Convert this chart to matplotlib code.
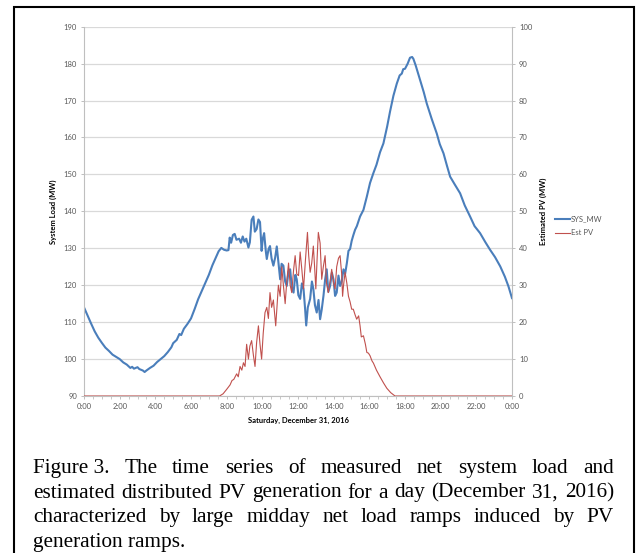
import matplotlib
matplotlib.use("Agg")
import matplotlib.pyplot as plt
from matplotlib.patches import Rectangle
from matplotlib.ticker import MultipleLocator, FuncFormatter

W, H = 637, 553

# measured net system load (left axis), hour of day -> MW
load_hours = [0.0, 0.2, 0.4, 0.6, 0.8, 1.0, 1.2, 1.4, 1.6, 1.8, 2.0, 2.2, 2.4, 2.6, 2.7, 2.8,
              3.0, 3.1, 3.3, 3.4, 3.5, 3.7, 3.9, 4.1, 4.3, 4.5, 4.7, 4.9, 5.0, 5.2, 5.35, 5.45,
              5.6, 5.8, 6.0, 6.2, 6.4, 6.6, 6.8, 7.0, 7.2, 7.4, 7.55, 7.7, 7.85, 8.0, 8.1, 8.17,
              8.25, 8.35, 8.45, 8.55, 8.7, 8.8, 8.9, 9.0, 9.1, 9.22, 9.3, 9.4, 9.5, 9.58, 9.68,
              9.78, 9.87, 9.96, 10.02, 10.1, 10.2, 10.25, 10.35, 10.43, 10.52, 10.62, 10.72,
              10.81, 10.9, 11.0, 11.08, 11.18, 11.28, 11.37, 11.47, 11.56, 11.65, 11.75, 11.85,
              11.93, 12.02, 12.12, 12.22, 12.31, 12.4, 12.46, 12.55, 12.68, 12.78, 12.86, 12.95,
              13.05, 13.15, 13.24, 13.33, 13.43, 13.52, 13.61, 13.7, 13.8, 13.9, 13.99, 14.08,
              14.17, 14.27, 14.36, 14.45, 14.55, 14.64, 14.74, 14.83, 14.92, 15.01, 15.1, 15.2,
              15.3, 15.48, 15.67, 15.86, 16.04, 16.23, 16.4, 16.6, 16.79, 17.0, 17.16, 17.35,
              17.54, 17.7, 17.82, 17.9, 18.0, 18.15, 18.28, 18.4, 18.47, 18.6, 18.85, 19.05,
              19.22, 19.5, 19.78, 19.95, 20.16, 20.35, 20.53, 20.8, 21.09, 21.35, 21.65, 21.9,
              22.21, 22.5, 22.77, 23.05, 23.34, 23.6, 23.8, 24.0]
load_mw = [114.0, 111.8, 109.6, 107.5, 105.8, 104.4, 103.1, 102.2, 101.2, 100.6, 100.0, 99.1,
           98.5, 97.6, 97.9, 97.4, 97.8, 97.3, 96.9, 96.5, 96.9, 97.6, 98.2, 99.2, 100.0, 100.8,
           101.9, 103.2, 104.3, 105.2, 106.8, 106.5, 108.2, 109.5, 111.0, 113.5, 116.2, 118.4,
           120.6, 122.8, 125.4, 127.6, 129.2, 130.1, 129.6, 129.4, 129.5, 132.9, 131.5, 133.6,
           133.9, 132.3, 132.6, 131.5, 133.2, 131.8, 132.6, 130.2, 131.6, 137.7, 138.6, 134.5,
           135.2, 137.8, 137.1, 129.3, 132.5, 134.1, 129.0, 127.1, 129.8, 130.6, 127.2, 125.3,
           127.5, 130.5, 126.4, 121.6, 125.8, 125.3, 121.0, 119.8, 123.8, 124.3, 119.5, 118.0,
           122.8, 121.6, 117.3, 116.3, 120.5, 119.0, 113.5, 109.1, 114.0, 116.3, 121.0, 119.0,
           114.6, 112.6, 116.0, 110.8, 113.4, 117.2, 121.5, 124.3, 118.2, 119.8, 123.4, 121.6,
           117.1, 118.0, 122.6, 119.8, 121.0, 124.3, 123.0, 126.0, 129.3, 129.8, 132.0, 133.5,
           135.0, 136.0, 138.6, 140.4, 144.0, 147.7, 150.4, 152.6, 156.0, 158.4, 163.0, 167.0,
           171.3, 174.6, 176.8, 177.3, 178.5, 178.6, 180.0, 181.6, 181.8, 181.3, 179.5, 175.5,
           172.3, 169.2, 165.0, 161.1, 158.2, 155.7, 152.4, 149.4, 147.2, 144.9, 141.6, 138.6,
           136.0, 134.1, 131.7, 129.6, 127.6, 125.1, 122.3, 119.7, 116.5]

# estimated distributed PV (right axis), hour of day -> MW
pv_hours = [0.0, 7.6, 7.8, 8.0, 8.19, 8.3, 8.4, 8.56, 8.65, 8.75, 8.85, 8.94, 9.03, 9.12, 9.22,
            9.3, 9.4, 9.5, 9.59, 9.68, 9.78, 9.87, 9.96, 10.05, 10.15, 10.25, 10.34, 10.43,
            10.52, 10.62, 10.75, 10.82, 10.9, 11.0, 11.09, 11.18, 11.28, 11.37, 11.47, 11.56,
            11.65, 11.75, 11.84, 11.93, 12.03, 12.12, 12.22, 12.31, 12.42, 12.53, 12.6, 12.68,
            12.77, 12.86, 12.93, 13.0, 13.07, 13.14, 13.24, 13.33, 13.42, 13.52, 13.6, 13.7,
            13.8, 13.89, 13.98, 14.08, 14.17, 14.27, 14.36, 14.45, 14.5, 14.55, 14.64, 14.74,
            14.83, 14.92, 15.01, 15.1, 15.2, 15.29, 15.4, 15.48, 15.55, 15.67, 15.78, 15.86,
            15.95, 16.04, 16.15, 16.23, 16.4, 16.6, 16.8, 16.98, 17.2, 17.44, 24.0]
pv_mw = [0.0, 0.0, 0.6, 1.8, 3.0, 4.2, 4.5, 6.0, 5.2, 8.0, 7.0, 9.0, 8.0, 14.0, 10.0, 13.5,
         15.0, 11.0, 8.0, 14.5, 19.0, 14.0, 10.0, 17.0, 22.6, 24.0, 21.0, 28.0, 24.0, 26.0,
         19.0, 24.0, 30.0, 27.0, 35.0, 30.0, 25.0, 31.0, 36.0, 30.0, 28.0, 34.0, 38.0, 33.0,
         32.6, 39.0, 34.0, 29.0, 37.0, 44.3, 38.0, 33.5, 36.0, 40.6, 35.0, 29.0, 37.0, 44.3,
         41.4, 31.6, 35.0, 38.0, 30.5, 28.0, 31.0, 34.3, 31.0, 29.0, 35.0, 37.3, 38.0, 33.0,
         27.0, 29.8, 33.5, 30.5, 27.0, 25.5, 23.5, 23.5, 22.0, 20.8, 21.7, 19.0, 16.0, 16.3,
         14.0, 11.8, 11.6, 10.9, 9.5, 8.9, 7.0, 5.2, 3.5, 2.1, 0.9, 0.0, 0.0]

caption_lines = [
    "Figure\u00a03.  The time series of measured net system load and",
    "estimated distributed PV generation for a day (December 31, 2016)",
    "characterized by large midday net load ramps induced by PV",
    "generation ramps.",
]

plt.rcParams['font.family'] = ['Lato', 'DejaVu Sans']

fig = plt.figure(figsize=(W / 100, H / 100), dpi=100)
ax = fig.add_axes([84 / W, 1 - 396 / H, (512 - 84) / W, (396 - 26.7) / H])
ax2 = ax.twinx()

l1, = ax.plot(load_hours, load_mw, color='#4a7ebb', lw=1.5, label='SYS_MW')
l2, = ax2.plot(pv_hours, pv_mw, color='#c0504d', lw=0.8, label='Est PV')

ax.set_xlim(0, 24)
ax.set_ylim(90, 190)
ax2.set_ylim(0, 100)
ax.yaxis.set_major_locator(MultipleLocator(10))
ax2.yaxis.set_major_locator(MultipleLocator(10))
ax.xaxis.set_major_locator(MultipleLocator(2))
ax.xaxis.set_minor_locator(MultipleLocator(0.5))
ax.xaxis.set_major_formatter(FuncFormatter(lambda v, p: "%d:00" % (int(round(v)) % 24)))

ax.grid(axis='y', color='#d9d9d9', lw=0.9)
ax.set_axisbelow(True)

grey = '#bfbfbf'
for s in ['top', 'right']:
    ax.spines[s].set_visible(False)
for s in ['top', 'left', 'bottom']:
    ax2.spines[s].set_visible(False)
ax.spines['left'].set_color(grey)
ax.spines['bottom'].set_color(grey)
ax2.spines['right'].set_color(grey)
for s in [ax.spines['left'], ax.spines['bottom'], ax2.spines['right']]:
    s.set_linewidth(0.8)

tick_kw = dict(direction='out', length=2.5, width=0.7, color=grey,
               labelsize=5.5, labelcolor='#595959', pad=2.5)
ax.tick_params(axis='y', **tick_kw)
ax2.tick_params(axis='y', **tick_kw)
ax.tick_params(axis='x', which='major', **tick_kw)
ax.tick_params(axis='x', which='minor', direction='out', length=2, width=0.6, color=grey)

ax.set_ylabel('System Load (MW)', fontsize=5.5, fontweight='bold')
ax.yaxis.set_label_coords((57 - 84) / 428, 0.5)
ax2.set_ylabel('Estimated PV (MW)', fontsize=5.5, fontweight='bold')
ax2.yaxis.set_label_coords((540 - 84) / 428, 0.5)

fig.text(298 / W, 1 - 420 / H, 'Saturday, December 31, 2016', fontsize=5.5,
         fontweight='bold', ha='center', va='center')

fig.legend(handles=[l1, l2], loc='center left', bbox_to_anchor=(555 / W, 1 - 226 / H),
           frameon=False, fontsize=5.5, labelcolor='#595959', handlelength=2.0,
           handletextpad=0.1, labelspacing=0.9, borderaxespad=0, borderpad=0)

# frame round figure and caption
fig.patches.append(Rectangle((13.5 / W, -0.1), (633.5 - 13.5) / W, 1 - 7 / H + 0.1,
                             transform=fig.transFigure, fill=False, ec='black', lw=1.5))

# justified caption
renderer = fig.canvas.get_renderer()
cap_kw = dict(fontsize=15.3, family='Liberation Serif', va='baseline', ha='left')
x0, x1 = 33, 614
baselines = [473, 497.5, 522, 546.5]
for i, line in enumerate(caption_lines):
    y = 1 - baselines[i] / H
    if i == len(caption_lines) - 1:
        fig.text(x0 / W, y, line, **cap_kw)
        continue
    words = line.replace("  ", " ").split(" ")
    texts = [fig.text(0, y, w.replace("\u00a0", " "), **cap_kw) for w in words]
    widths = [t.get_window_extent(renderer=renderer).width for t in texts]
    gap = ((x1 - x0) - sum(widths)) / (len(words) - 1)
    x = x0
    for t, w in zip(texts, widths):
        t.set_x(x / W)
        x += w + gap

fig.savefig('out.png', dpi=100)
